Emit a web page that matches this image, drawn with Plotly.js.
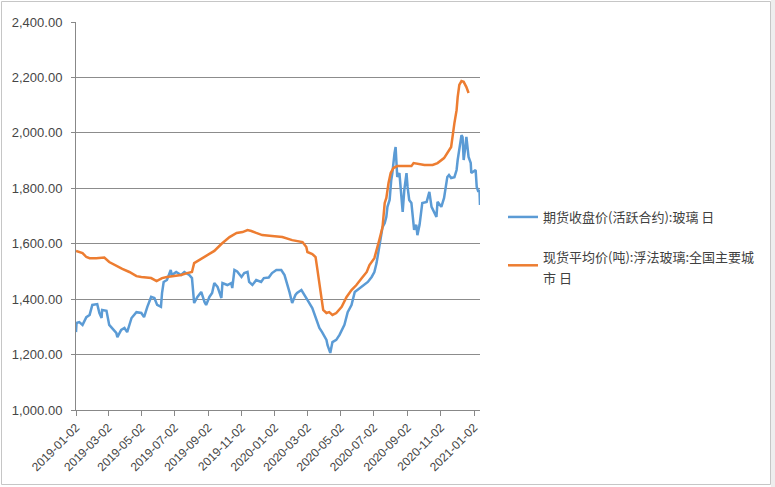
<!DOCTYPE html>
<html>
<head>
<meta charset="utf-8">
<script src="https://cdn.plot.ly/plotly-3.0.1.min.js"></script>
<style>html,body{margin:0;padding:0;background:#fff;}#chart{width:775px;height:487px;}</style>
</head>
<body>
<div id="chart"></div>
<script>
// 期货收盘价(活跃合约):玻璃 日
var futuresDates = ["2019-01-02","2019-01-03","2019-01-08","2019-01-14","2019-01-21","2019-01-27","2019-02-01","2019-02-10","2019-02-14","2019-02-18","2019-02-19","2019-02-27","2019-03-04","2019-03-09","2019-03-17","2019-03-19","2019-03-26","2019-04-01","2019-04-06","2019-04-14","2019-04-23","2019-05-02","2019-05-07","2019-05-13","2019-05-20","2019-05-26","2019-05-31","2019-06-07","2019-06-09","2019-06-12","2019-06-18","2019-06-25","2019-06-27","2019-07-05","2019-07-14","2019-07-20","2019-07-29","2019-08-03","2019-08-07","2019-08-13","2019-08-20","2019-08-26","2019-08-29","2019-09-04","2019-09-09","2019-09-13","2019-09-19","2019-09-26","2019-09-28","2019-10-07","2019-10-14","2019-10-16","2019-10-20","2019-10-25","2019-11-02","2019-11-07","2019-11-13","2019-11-16","2019-11-22","2019-11-29","2019-12-08","2019-12-13","2019-12-22","2019-12-28","2020-01-05","2020-01-14","2020-01-20","2020-01-29","2020-02-03","2020-02-09","2020-02-12","2020-02-20","2020-02-25","2020-03-02","2020-03-11","2020-03-18","2020-03-24","2020-03-29","2020-04-06","2020-04-08","2020-04-13","2020-04-17","2020-04-24","2020-04-30","2020-05-09","2020-05-15","2020-05-22","2020-05-28","2020-06-02","2020-06-10","2020-06-15","2020-06-21","2020-06-28","2020-07-03","2020-07-07","2020-07-12","2020-07-18","2020-07-22","2020-07-25","2020-07-27","2020-07-31","2020-08-03","2020-08-05","2020-08-09","2020-08-11","2020-08-13","2020-08-14","2020-08-18","2020-08-22","2020-08-24","2020-08-27","2020-08-31","2020-09-02","2020-09-05","2020-09-09","2020-09-11","2020-09-14","2020-09-18","2020-09-20","2020-09-24","2020-09-27","2020-09-29","2020-10-07","2020-10-12","2020-10-16","2020-10-21","2020-10-25","2020-10-27","2020-11-03","2020-11-08","2020-11-12","2020-11-14","2020-11-17","2020-11-21","2020-11-27","2020-12-01","2020-12-03","2020-12-06","2020-12-10","2020-12-12","2020-12-14","2020-12-17","2020-12-19","2020-12-23","2020-12-27","2020-12-28","2021-01-01","2021-01-05","2021-01-07","2021-01-10","2021-01-12","2021-01-13"];
var futuresValues = [1281,1314,1317,1307,1335,1343,1379,1382,1350,1332,1361,1358,1307,1296,1278,1263,1289,1296,1281,1332,1353,1350,1335,1372,1408,1404,1379,1372,1422,1462,1469,1505,1487,1498,1487,1498,1487,1476,1386,1408,1426,1390,1379,1408,1422,1458,1444,1404,1458,1451,1458,1440,1505,1500,1480,1494,1498,1462,1451,1469,1462,1476,1478,1494,1505,1505,1487,1426,1386,1415,1422,1433,1415,1397,1368,1332,1296,1281,1253,1234,1206,1245,1253,1271,1307,1353,1379,1426,1433,1444,1451,1462,1480,1498,1530,1595,1660,1675,1697,1733,1758,1830,1855,1927,1949,1877,1841,1855,1758,1715,1794,1855,1805,1758,1747,1697,1650,1668,1631,1668,1722,1747,1751,1787,1733,1715,1697,1751,1733,1765,1812,1841,1848,1837,1840,1866,1902,1938,1992,1985,1902,1949,1985,1913,1891,1855,1859,1866,1805,1787,1794,1740];

// 现货平均价(吨):浮法玻璃:全国主要城市 日
var spotDates = ["2019-01-02","2019-01-14","2019-01-21","2019-01-27","2019-02-08","2019-02-18","2019-02-23","2019-03-04","2019-03-17","2019-03-28","2019-04-10","2019-04-23","2019-05-02","2019-05-15","2019-05-20","2019-05-30","2019-06-09","2019-06-18","2019-07-01","2019-07-14","2019-07-25","2019-08-03","2019-08-07","2019-08-20","2019-09-01","2019-09-13","2019-09-26","2019-10-02","2019-10-11","2019-10-24","2019-11-04","2019-11-13","2019-11-20","2019-11-29","2019-12-10","2019-12-28","2020-01-16","2020-02-03","2020-02-22","2020-02-29","2020-03-02","2020-03-11","2020-03-17","2020-03-20","2020-03-24","2020-03-28","2020-03-31","2020-04-06","2020-04-11","2020-04-17","2020-04-24","2020-05-04","2020-05-13","2020-05-22","2020-05-31","2020-06-10","2020-06-19","2020-06-24","2020-07-03","2020-07-12","2020-07-18","2020-07-22","2020-07-25","2020-07-29","2020-08-02","2020-08-07","2020-08-14","2020-08-31","2020-09-09","2020-09-13","2020-09-20","2020-10-03","2020-10-18","2020-10-27","2020-11-08","2020-11-14","2020-11-21","2020-11-27","2020-12-01","2020-12-03","2020-12-06","2020-12-10","2020-12-14","2020-12-19","2020-12-23"];
var spotValues = [1574,1566,1552,1548,1548,1550,1550,1534,1520,1509,1498,1483,1480,1477,1476,1465,1476,1480,1483,1487,1494,1498,1530,1545,1559,1574,1599,1610,1624,1639,1642,1649,1646,1639,1631,1628,1624,1613,1606,1588,1570,1563,1552,1512,1451,1397,1361,1350,1353,1343,1350,1372,1408,1433,1451,1476,1498,1523,1548,1613,1660,1747,1765,1819,1855,1873,1880,1880,1880,1891,1888,1884,1884,1891,1909,1927,1949,2035,2082,2129,2173,2187,2184,2165,2144];

var seriesNames = ["期货收盘价(活跃合约):玻璃 日", "现货平均价(吨):浮法玻璃:全国主要城<br>市 日"];
var xTickVals = ["2019-01-02","2019-03-02","2019-05-02","2019-07-02","2019-09-02","2019-11-02","2020-01-02","2020-03-02","2020-05-02","2020-07-02","2020-09-02","2020-11-02","2021-01-02"];
var yTickVals = [1000,1200,1400,1600,1800,2000,2200,2400];

var W = 775, H = 487, M = {l: 76, r: 295, t: 22, b: 77, pad: 0};
function px(x){ return (x - M.l) / (W - M.l - M.r); }
function py(y){ return 1 - (y - M.t) / (H - M.t - M.b); }

var font = '"Liberation Sans", "Noto Sans CJK SC", sans-serif';
var cjk = '"Noto Sans CJK SC", "Liberation Sans", sans-serif';

var traces = [
  {x: futuresDates, y: futuresValues, type: 'scatter', mode: 'lines', name: seriesNames[0],
   legendgroup: 'a', line: {color: '#5B9BD5', width: 2.5, shape: 'linear'}},
  {x: spotDates, y: spotValues, type: 'scatter', mode: 'lines', name: seriesNames[1],
   legendgroup: 'b', line: {color: '#ED7D31', width: 2.5, shape: 'linear'}}
];

var layout = {
  width: W, height: H,
  margin: M,
  paper_bgcolor: '#ffffff', plot_bgcolor: '#ffffff',
  showlegend: true,
  legend: {
    x: px(503), y: py(202), xanchor: 'left', yanchor: 'top',
    font: {family: cjk, size: 13, color: '#404040'},
    tracegroupgap: 20, bgcolor: 'rgba(0,0,0,0)', itemwidth: 30
  },
  xaxis: {
    type: 'date',
    range: ['2019-01-02', '2021-01-13'],
    tickvals: xTickVals, ticktext: xTickVals,
    tickangle: -45,
    tickfont: {family: font, size: 12, color: '#454545'},
    showgrid: false, zeroline: false,
    showline: true, linecolor: '#888888', linewidth: 1,
    ticks: 'outside', ticklen: 5, tickcolor: '#888888'
  },
  yaxis: {
    range: [1000, 2400],
    tickvals: yTickVals, tickformat: ',.2f',
    tickfont: {family: font, size: 13, color: '#454545'},
    ticklabelstandoff: 6,
    showgrid: true, gridcolor: '#8c8c8c', gridwidth: 1,
    zeroline: false,
    showline: true, linecolor: '#888888', linewidth: 1,
    ticks: 'outside', ticklen: 4, tickcolor: '#888888'
  },
  shapes: [
    {type: 'rect', xref: 'paper', yref: 'paper', x0: px(771), x1: px(776), y0: py(-1), y1: py(488),
     fillcolor: '#eeeeee', line: {width: 0}, layer: 'below'},
    {type: 'rect', xref: 'paper', yref: 'paper', x0: px(1.5), x1: px(770.5), y0: py(1.5), y1: py(484.5),
     line: {color: '#c6c6c6', width: 1}, fillcolor: 'rgba(0,0,0,0)', layer: 'below'}
  ]
};

Plotly.newPlot('chart', traces, layout, {displayModeBar: false, staticPlot: true}).then(function(gd){
  // widen the line spacing of the wrapped legend entry (Excel uses ~21px)
  var lines = gd.querySelectorAll('.legend .traces text.legendtext tspan.line');
  lines.forEach(function(t, i){
    if (i === 0) return;
    var prev = t.previousElementSibling;
    if (!prev) return;
    var y = parseFloat(t.getAttribute('y'));
    if (!isNaN(y)) { t.setAttribute('y', y + 4); }
    else { t.setAttribute('dy', '1.62em'); }
  });
});
</script>
</body>
</html>
